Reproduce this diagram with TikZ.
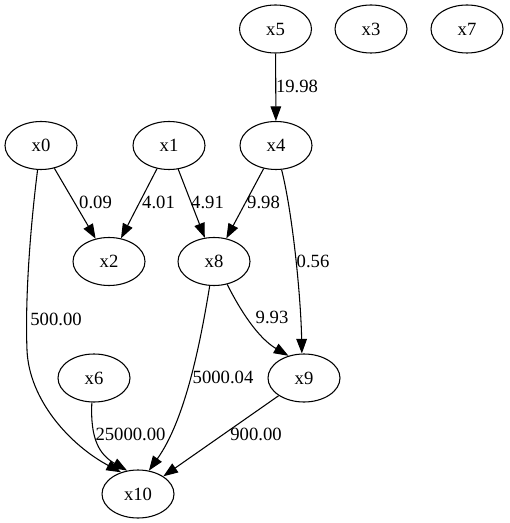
\documentclass[tikz,border=0pt]{standalone}
\usepackage{fontspec}
\setmainfont{Liberation Serif}
\usetikzlibrary{shapes.geometric,arrows.meta}
\begin{document}
\begin{tikzpicture}[x=0.75pt,y=-0.75pt,
  vert/.style={draw,ellipse,minimum width=54pt,minimum height=36pt,inner sep=0pt,line width=0.8pt,font=\fontsize{14}{16}\selectfont},
  elab/.style={inner sep=0pt,font=\fontsize{14}{16}\selectfont},
  conn/.style={line width=0.8pt,-{Triangle[length=11pt,width=8pt]}}]
\useasboundingbox (0,0) rectangle (509,523);
\node[vert] (x5) at (275.5,29) {x5};
\node[vert] (x3) at (371,29) {x3};
\node[vert] (x7) at (467,29) {x7};
\node[vert] (x0) at (41,145.5) {x0};
\node[vert] (x1) at (169,145.5) {x1};
\node[vert] (x4) at (276,145.5) {x4};
\node[vert] (x2) at (109,261.5) {x2};
\node[vert] (x8) at (214,261.5) {x8};
\node[vert] (x6) at (94,378) {x6};
\node[vert] (x9) at (304,378) {x9};
\node[vert] (x10) at (138,494) {x10};
% connectors
\draw[conn] (x5) -- (x4);
\draw[conn] (x0) -- (x2);
\draw[conn] (x1) -- (x2);
\draw[conn] (x1) -- (x8);
\draw[conn] (x4) -- (x8);
\draw[conn] (x4.283) .. controls (293,215) and (301,300) .. (x9.95);
\draw[conn] (x8.300) .. controls (240,310) and (258,338) .. (x9.125);
\draw[conn] (x8.260) .. controls (200,345) and (185,420) .. (x10.65);
\coordinate (m0) at (27,350);
\draw[conn] (x0.262) .. controls (30,230) and (25,300) .. (m0) .. controls (29,400) and (70,445) .. (x10.128);
\draw[conn] (x6.265) .. controls (90,440) and (100,455) .. (x10.115);
\draw[conn] (x9) -- (x10);
% labels
\node[elab] (l1) at (297,86) {19.98};
\node[elab] (l2) at (95.5,202) {0.09};
\node[elab] (l3) at (158.5,202) {4.01};
\node[elab] (l4) at (207.5,202) {4.91};
\node[elab] (l5) at (263.5,202) {9.98};
\node[elab] (l6) at (313,261) {0.56};
\node[elab] (l7) at (272,317) {9.93};
\node[elab] (l8) at (56,319) {500.00};
\node[elab] (l9) at (223,377) {5000.04};
\node[elab] (l10) at (130.5,434) {25000.00};
\node[elab] (l11) at (256,434) {900.00};
\end{tikzpicture}
\end{document}
